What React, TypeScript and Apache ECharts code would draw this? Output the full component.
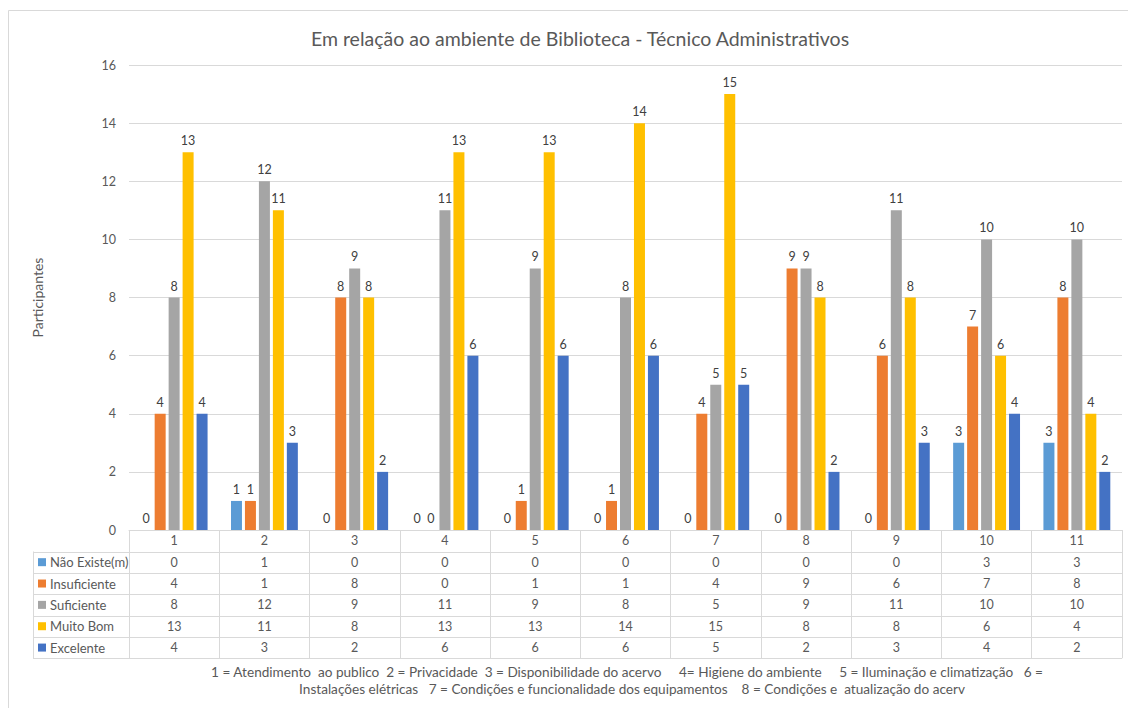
import React, { useEffect, useRef } from "react";
import * as echarts from "echarts";

const categories = ["1", "2", "3", "4", "5", "6", "7", "8", "9", "10", "11"];
const seriesNames = ["Não Existe(m)", "Insuficiente", "Suficiente", "Muito Bom", "Excelente"];
const naoExiste = [0, 1, 0, 0, 0, 0, 0, 0, 0, 3, 3];
const insuficiente = [4, 1, 8, 0, 1, 1, 4, 9, 6, 7, 8];
const suficiente = [8, 12, 9, 11, 9, 8, 5, 9, 11, 10, 10];
const muitoBom = [13, 11, 8, 13, 13, 14, 15, 8, 8, 6, 4];
const excelente = [4, 3, 2, 6, 6, 6, 5, 2, 3, 4, 2];
const colors = ["#5B9BD5", "#ED7D31", "#A5A5A5", "#FFC000", "#4472C4"];
const yTicks = { min: 0, max: 16, interval: 2 };
const titleText = "Em relação ao ambiente de Biblioteca - Técnico Administrativos";
const yName = "Participantes";
const footLine1 =
  "1 = Atendimento  ao publico  2 = Privacidade  3 = Disponibilidade do acervo     4= Higiene do ambiente     5 = Iluminação e climatização   6 =";
const footLine2 =
  "Instalações elétricas   7 = Condições e funcionalidade dos equipamentos    8 = Condições e  atualização do acerv";

const FONT = "Lato, 'Open Sans', sans-serif";

export default function App() {
  const ref = useRef<HTMLDivElement>(null);
  useEffect(() => {
    if (!ref.current) return;
    const chart = echarts.init(ref.current, null, { renderer: "svg" });
    const rows = [naoExiste, insuficiente, suficiente, muitoBom, excelente];
    const gridLeft = 129;
    const gridRight = 1122;
    const axisY = 530;
    const headerH = 21.5;
    const rowH = 21.35;
    const tableTop = axisY + headerH;
    const tableLeft = 33;
    const lineColor = "#D9D9D9";

    const rowAxes = rows.map((r, i) => ({
      type: "category",
      data: categories,
      gridIndex: 0,
      position: "bottom",
      offset: headerH + i * rowH,
      axisLine: { show: false },
      axisTick: { show: false },
      axisLabel: {
        interval: 0,
        margin: 4,
        fontSize: 12.5,
        color: "#595959",
        fontFamily: FONT,
        formatter: (_v: string, idx: number) => String(r[idx]),
      },
    }));

    const legends = seriesNames.map((n, i) => ({
      orient: "vertical",
      left: 38,
      top: tableTop + i * rowH + rowH / 2 - 7,
      padding: 0,
      itemWidth: 8,
      itemHeight: 8,
      icon: "rect",
      selectedMode: false,
      textStyle: { fontSize: 13, color: "#595959", lineHeight: 14, padding: [0, 0, 0, -1], fontFamily: FONT },
      data: [n],
    }));

    const graphics: any[] = [
      {
        type: "rect",
        shape: { x: 8.5, y: 10.5, width: 1125, height: 705 },
        style: { fill: "none", stroke: lineColor, lineWidth: 1 },
        silent: true,
      },
      {
        type: "line",
        shape: { x1: tableLeft + 0.5, y1: tableTop, x2: tableLeft + 0.5, y2: tableTop + rows.length * rowH },
        style: { stroke: lineColor, lineWidth: 1 },
      },
      {
        type: "text",
        x: 627,
        y: 672,
        style: { text: footLine1, fill: "#595959", font: `13.6px ${FONT}`, align: "center", verticalAlign: "middle" },
      },
      {
        type: "text",
        x: 632,
        y: 689,
        style: { text: footLine2, fill: "#595959", font: `13.6px ${FONT}`, align: "center", verticalAlign: "middle" },
      },
    ];
    for (let i = 0; i <= rows.length; i++) {
      const y = Math.round(tableTop + i * rowH) + 0.5;
      graphics.push({
        type: "line",
        shape: { x1: tableLeft, y1: y, x2: gridRight, y2: y },
        style: { stroke: lineColor, lineWidth: 1 },
      });
    }

    chart.setOption({
      animation: false,
      color: colors,
      textStyle: { fontFamily: FONT },
      title: {
        text: titleText,
        left: 575,
        textAlign: "center",
        top: 23,
        textStyle: { fontSize: 19.5, fontWeight: "normal", color: "#595959", fontFamily: FONT },
      },
      legend: legends,
      grid: { left: gridLeft, right: 1128 - gridRight, top: 65, bottom: 708 - axisY },
      xAxis: [
        {
          type: "category",
          data: categories,
          axisLine: { show: true, lineStyle: { color: lineColor } },
          axisTick: { show: true, length: headerH + rows.length * rowH, lineStyle: { color: lineColor } },
          axisLabel: { interval: 0, margin: 4, fontSize: 12.5, color: "#595959", fontFamily: FONT },
        },
        ...rowAxes,
      ],
      yAxis: {
        type: "value",
        min: yTicks.min,
        max: yTicks.max,
        interval: yTicks.interval,
        name: yName,
        nameLocation: "middle",
        nameGap: 85,
        nameTextStyle: { fontSize: 14, color: "#595959", fontFamily: FONT },
        axisLine: { show: false },
        axisTick: { show: false },
        axisLabel: { fontSize: 12.5, color: "#595959", margin: 13, fontFamily: FONT },
        splitLine: { lineStyle: { color: lineColor } },
      },
      series: rows.map((r, i) => ({
        type: "bar",
        name: seriesNames[i],
        data: r,
        barWidth: 11,
        barGap: "27%",
        label: { show: true, position: "top", distance: 5, fontSize: 12.5, color: "#404040", fontFamily: FONT },
      })),
      graphic: graphics,
    });
    return () => chart.dispose();
  }, []);
  return <div ref={ref} style={{ position: "absolute", left: 0, top: 0, width: 1128, height: 708 }} />;
}
